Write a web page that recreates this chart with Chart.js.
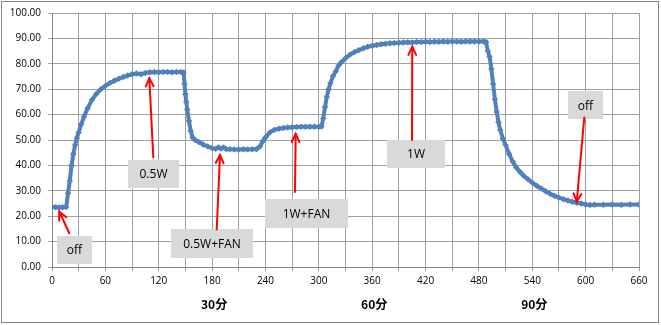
<!DOCTYPE html>
<html><head><meta charset="utf-8">
<script src="https://cdn.jsdelivr.net/npm/chart.js@4"></script>
<style>html,body{margin:0;padding:0;background:#fff;overflow:hidden}#wrap{width:661px;height:325px;position:relative}canvas{display:block}</style>
</head><body><div id="wrap"><canvas id="c" width="661" height="325"></canvas></div>
<script>
// time (x) values
const times = [0,4,8,12,16,18,20,22,24,26,28,30,33,36,40,45,50,55,60,65,70,75,80,85,90,95,100,105,110,115,120,125,130,135,140,145,148,
149,150,151,152,154,156,158,161,165,170,175,180,184,187,190,193,196,200,205,210,215,220,225,230,234,237,240,245,250,255,260,265,270,275,280,285,290,295,300,303,
305,307,309,311,313,316,319,322,325,330,335,340,345,350,355,360,365,370,375,380,385,390,395,400,405,410,415,420,425,430,435,440,445,450,455,460,465,470,475,480,485,488,
490,492,494,496,498,500,502,504,507,510,514,518,522,526,530,535,540,545,550,555,560,565,570,575,580,585,590,595,600,605,610,620,630,640,650,660];
// temperature values
const temps = [23.6,23.5,23.4,23.5,23.6,29,34,40,44.5,48,50.8,53,56.3,59.2,62.5,65.8,68.2,70,71.3,72.4,73.3,74.1,74.8,75.4,75.9,76.2,75.9,76.4,76.7,76.8,76.7,76.8,76.8,76.7,76.8,76.8,76.6,
72,68,65,62,57.5,53.5,51,50,49.2,48.2,47.5,46.8,46.5,47.1,46.6,47.1,46.4,46.4,46.3,46.3,46.4,46.3,46.4,46.4,47.5,49.5,51,53,54,54.4,54.7,54.9,55,55.1,55.2,55.2,55.2,55.2,55.2,55.3,
58.5,63,67,70,72.3,75.2,77,79.2,80.5,82.2,83.6,84.6,85.4,86.1,86.7,87.1,87.4,87.7,87.9,88.1,88.2,88.3,88.4,88.5,88.4,88.6,88.6,88.7,88.6,88.7,88.7,88.8,88.7,88.8,88.8,88.7,88.8,88.8,88.8,88.8,88.8,88.6,
85,82.8,78,72,66,61,57,53.9,50.5,48,44.5,41.5,39.2,37.5,36,34.6,33.2,32,30.9,29.8,28.8,28,27.3,26.7,26.2,25.7,25.3,25,24.6,24.4,24.5,24.5,24.6,24.5,24.6,24.6];

const sectionLabels = ['30分','60分','90分'];
const sectionAt = [180,360,540];

// annotation texts, box centres and arrow ends in data units
const noteTexts = ['off','0.5W','0.5W+FAN','1W+FAN','1W','off'];
const noteBox = [[25.3,6.7],[114.1,36.6],[179.9,9.25],[286.1,21.1],[409.3,44.5],[599.8,63.6]];
const noteFrom = [[19.5,13.3],[113.9,43.2],[185.2,14.8],[273.2,29.5],[404.8,50],[598.5,58.9]];
const noteTo = [[8.2,21.8],[109.4,74.3],[188.9,44.1],[274,52.4],[405.1,86.7],[590,25.7]];
const noteSize = [[35,28],[51,28],[82,29],[83,29],[58,28],[35,28]];

const points = times.map((t,i)=>({x:t,y:temps[i]}));

const annot = {
  id:'annot',
  afterDatasetsDraw(chart){
    const ctx=chart.ctx, xs=chart.scales.x, ys=chart.scales.y;
    ctx.save();
    noteTexts.forEach((txt,i)=>{
      const cx=xs.getPixelForValue(noteBox[i][0]), cy=ys.getPixelForValue(noteBox[i][1]);
      const w=noteSize[i][0], h=noteSize[i][1];
      ctx.fillStyle='#D9D9D9';
      ctx.fillRect(Math.round(cx-w/2),Math.round(cy-h/2),w,h);
      ctx.fillStyle='#000';
      ctx.font='12px "Open Sans", "Noto Sans", sans-serif';
      ctx.textAlign='center';ctx.textBaseline='middle';
      ctx.fillText(txt,cx,cy+1);
      const x1=xs.getPixelForValue(noteFrom[i][0]), y1=ys.getPixelForValue(noteFrom[i][1]);
      const x2=xs.getPixelForValue(noteTo[i][0]), y2=ys.getPixelForValue(noteTo[i][1]);
      ctx.strokeStyle='#FF0000';ctx.lineWidth=2;ctx.lineCap='round';
      ctx.beginPath();ctx.moveTo(x1,y1);ctx.lineTo(x2,y2);ctx.stroke();
      const a=Math.atan2(y2-y1,x2-x1), L=9, s=0.45;
      ctx.beginPath();
      ctx.moveTo(x2-L*Math.cos(a-s),y2-L*Math.sin(a-s));
      ctx.lineTo(x2,y2);
      ctx.lineTo(x2-L*Math.cos(a+s),y2-L*Math.sin(a+s));
      ctx.stroke();
    });
    ctx.restore();
  },
  afterDraw(chart){
    const ctx=chart.ctx, xs=chart.scales.x;
    ctx.save();
    ctx.fillStyle='#000';
    ctx.font='bold 12px "Noto Sans CJK JP", sans-serif';
    ctx.textAlign='center';ctx.textBaseline='middle';
    sectionLabels.forEach((s,i)=>ctx.fillText(s,xs.getPixelForValue(sectionAt[i])+2,304));
    ctx.strokeStyle='#878787';ctx.lineWidth=1;
    ctx.strokeRect(1.5,1.5,657,321);
    ctx.restore();
  }
};

new Chart(document.getElementById('c'),{
  type:'line',
  data:{datasets:[{data:points,borderColor:'#4F81BD',backgroundColor:'#4F81BD',borderWidth:4,
    pointStyle:'rectRot',pointRadius:3.2,pointBorderWidth:0,pointBackgroundColor:'#4F81BD',tension:0}]},
  options:{
    responsive:false,animation:false,devicePixelRatio:1,
    layout:{padding:{left:0,top:13,right:22,bottom:0}},
    plugins:{legend:{display:false},tooltip:{enabled:false}},
    scales:{
      x:{type:'linear',min:0,max:660,
        afterFit(s){s.height=58;},
        grid:{color:'#A0A0A0',tickLength:4,tickColor:'#A0A0A0'},
        border:{color:'#868686'},
        ticks:{stepSize:30,autoSkip:false,maxRotation:0,padding:4,color:'#000',
          font:{family:'"Open Sans","Noto Sans",sans-serif',size:10},
          callback:v=>v%60===0?String(v):''}},
      y:{min:0,max:100,
        afterFit(s){s.width=52;},
        grid:{color:'#A0A0A0',tickLength:4,tickColor:'#A0A0A0'},
        border:{color:'#868686'},
        ticks:{stepSize:10,padding:7,color:'#000',
          font:{family:'"Open Sans","Noto Sans",sans-serif',size:10},
          callback:v=>Number(v).toFixed(2)}}
    }
  },
  plugins:[annot]
});
</script></body></html>
